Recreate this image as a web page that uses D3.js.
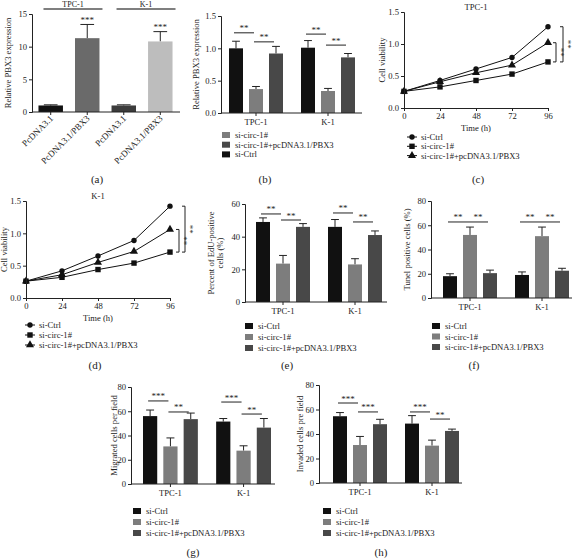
<!DOCTYPE html>
<html><head><meta charset="utf-8">
<script src="https://cdn.jsdelivr.net/npm/d3@7"></script>
<style>
body{margin:0;background:#fff}
svg{display:block}
text{font-family:"Liberation Serif","Times New Roman",serif;fill:#222}
</style>
</head><body><svg id="c" width="580" height="559"></svg>
<script>
// ---------------- DATA ----------------
const groups = ["TPC-1", "K-1"];
const seriesNames = ["si-Ctrl", "si-circ-1#", "si-circ-1#+pcDNA3.1/PBX3"];
const seriesColors = ["#111111", "#7d7d7d", "#484848"];

// (a)
const aLabels = ["PcDNA3.1", "PcDNA3.1/PBX3", "PcDNA3.1", "PcDNA3.1/PBX3"];
const aValues = [1.0, 11.3, 1.0, 10.8];
const aErr = [1.1, 13.4, 1.1, 12.3];
const aSig = ["", "***", "", "***"];
const aColors = ["#111111", "#6a6a6a", "#3c3c3c", "#bdbdbd"];
const aTicks = [0, 5, 10, 15];

// (b)
const bValues = [[1.0, 0.37, 0.92], [1.01, 0.34, 0.86]];
const bErr = [[1.11, 0.41, 1.03], [1.12, 0.38, 0.92]];
const bSig = [[0, 0, 1, 1.24, "**"], [0, 1, 2, 1.10, "**"], [1, 0, 1, 1.22, "**"], [1, 1, 2, 1.05, "**"]];
const bLegend = [1, 2, 0];
const unitTicks = [0, 0.5, 1.0, 1.5];

// (c) and (d)
const timePoints = [0, 24, 48, 72, 96];
const cCtrl = [0.26, 0.43, 0.61, 0.79, 1.27];
const cCirc = [0.26, 0.33, 0.43, 0.53, 0.72];
const cRescue = [0.26, 0.41, 0.55, 0.67, 1.02];
const dCtrl = [0.26, 0.42, 0.65, 0.89, 1.42];
const dCirc = [0.26, 0.32, 0.44, 0.54, 0.71];
const dRescue = [0.26, 0.36, 0.55, 0.72, 1.06];
const lineLegend = ["si-Ctrl", "si-circ-1#", "si-circ-1#+pcDNA3.1/PBX3"];

// (e)
const eValues = [[49, 23.5, 46], [46, 23, 41]];
const eErr = [[51.5, 28.5, 48], [50.5, 26.5, 43.5]];
const eSig = [[0, 0, 1, 53.9, "**"], [0, 1, 2, 50.2, "**"], [1, 0, 1, 54.5, "**"], [1, 1, 2, 49, "**"]];
const eTicks = [0, 20, 40, 60];

// (f)
const fValues = [[18, 52, 20.5], [19, 51, 22.5]];
const fErr = [[20, 58.5, 23], [21.5, 58.5, 24.5]];
const fSig = [[0, 0, 1, 62.7, "**"], [0, 1, 2, 62.7, "**"], [1, 0, 1, 62.7, "**"], [1, 1, 2, 62.7, "**"]];
const tick80 = [0, 20, 40, 60, 80];

// (g)
const gValues = [[56, 31, 53.5], [51.5, 27.5, 46.5]];
const gErr = [[61, 38, 58.5], [54, 31.5, 54]];
const gSig = [[0, 0, 1, 68.5, "***"], [0, 1, 2, 59.4, "**"], [1, 0, 1, 67.6, "***"], [1, 1, 2, 57.7, "**"]];

// (h)
const hValues = [[54.5, 31, 48], [48.5, 30.5, 42.5]];
const hErr = [[57.5, 38, 52], [55, 35, 44]];
const hSig = [[0, 0, 1, 65.3, "***"], [0, 1, 2, 58, "***"], [1, 0, 1, 58, "***"], [1, 1, 2, 52.2, "**"]];

// ---------------- DRAW ----------------
const svg = d3.select("#c");
const FS = 8.6;

function styleAxis(g) {
  g.selectAll("path.domain").attr("stroke", "#222").attr("stroke-width", 1);
  g.selectAll(".tick line").attr("stroke", "#222");
  g.selectAll(".tick text").style("font-family", '"Liberation Serif",serif').style("font-size", FS + "px").attr("fill", "#222");
}

function yAxis(y, x, ticks, fmt) {
  const g = svg.append("g").attr("transform", `translate(${x},0)`)
    .call(d3.axisLeft(y).tickValues(ticks).tickFormat(fmt).tickSizeOuter(0).tickSize(3).tickPadding(2));
  styleAxis(g);
}

function yTitle(lines, x, yc) {
  const t = svg.append("text").attr("transform", `translate(${x},${yc}) rotate(-90)`)
    .attr("text-anchor", "middle").style("font-size", FS + "px");
  lines.forEach((l, i) => t.append("tspan").attr("x", 0).attr("dy", i === 0 ? -(lines.length - 1) * 4.5 : 9).text(l));
}

function caption(txt, x, y) {
  svg.append("text").attr("x", x).attr("y", y).attr("text-anchor", "middle").style("font-size", "11px").text(txt);
}

function errBar(x, yTop, yBar, cap) {
  svg.append("line").attr("x1", x).attr("x2", x).attr("y1", yTop).attr("y2", yBar).attr("stroke", "#222").attr("stroke-width", 1);
  svg.append("line").attr("x1", x - cap).attr("x2", x + cap).attr("y1", yTop).attr("y2", yTop).attr("stroke", "#222").attr("stroke-width", 1);
}

function barPanel(cfg, values, errs, sigs, legendOrder) {
  const y = d3.scaleLinear().domain([0, cfg.ymax]).range([cfg.y0, cfg.y1]);
  const x0 = d3.scaleBand().domain(groups).range(cfg.groupRange).paddingInner(0.25).paddingOuter(0);
  const x1 = d3.scaleBand().domain(seriesNames).range([0, x0.bandwidth()]).paddingInner(0.3).paddingOuter(0);
  const bw = x1.bandwidth();
  groups.forEach((gname, gi) => {
    seriesNames.forEach((s, si) => {
      const xx = x0(gname) + x1(s);
      const cx = xx + bw / 2;
      errBar(cx, y(errs[gi][si]), y(values[gi][si]), bw * 0.28);
      svg.append("rect").attr("x", xx).attr("y", y(values[gi][si])).attr("width", bw)
        .attr("height", y(0) - y(values[gi][si])).attr("fill", seriesColors[si]);
    });
  });
  sigs.forEach(([gi, a, b, lvl, lab]) => {
    const xa = x0(groups[gi]) + x1(seriesNames[a]) + bw / 2 - 2;
    const xb = x0(groups[gi]) + x1(seriesNames[b]) + bw / 2 - 2;
    svg.append("line").attr("x1", xa).attr("x2", xb).attr("y1", y(lvl)).attr("y2", y(lvl)).attr("stroke", "#222");
    svg.append("text").attr("x", (xa + xb) / 2).attr("y", y(lvl) - 1.5).attr("text-anchor", "middle")
      .style("font-size", "9px").text(lab);
  });
  yAxis(y, cfg.ax, cfg.ticks, cfg.fmt);
  const xg = svg.append("g").attr("transform", `translate(0,${cfg.y0})`);
  xg.append("line").attr("x1", cfg.ax).attr("x2", cfg.axEnd).attr("stroke", "#222");
  groups.forEach(gname => {
    const cx = x0(gname) + x0.bandwidth() / 2;
    xg.append("line").attr("x1", cx).attr("x2", cx).attr("y1", 0).attr("y2", 3).attr("stroke", "#222");
    xg.append("text").attr("x", cx).attr("y", 12).attr("text-anchor", "middle").style("font-size", FS + "px").text(gname);
  });
  yTitle(cfg.title, cfg.titleX, (cfg.y0 + cfg.y1) / 2);
  legendOrder.forEach((si, i) => {
    const ly = cfg.legY + i * cfg.legStep;
    svg.append("rect").attr("x", cfg.legX).attr("y", ly - 3).attr("width", 8).attr("height", 6).attr("fill", seriesColors[si]);
    svg.append("text").attr("x", cfg.legX + 13).attr("y", ly + 3).style("font-size", FS + "px").text(seriesNames[si]);
  });
}

function marker(g, kind, x, y) {
  if (kind === 0) g.append("circle").attr("cx", x).attr("cy", y).attr("r", 2.7).attr("fill", "#111");
  else if (kind === 1) g.append("rect").attr("x", x - 2.7).attr("y", y - 2.7).attr("width", 5.4).attr("height", 5.4).attr("fill", "#111");
  else g.append("path").attr("d", d3.symbol(d3.symbolTriangle, 28)()).attr("transform", `translate(${x},${y})`).attr("fill", "#111");
}

function linePanel(cfg, series) {
  const x = d3.scaleLinear().domain([0, 96]).range([cfg.x0, cfg.x1]);
  const y = d3.scaleLinear().domain([0, 1.5]).range([cfg.y0, cfg.y1]);
  const g = svg.append("g");
  const line = d3.line().x((d, i) => x(timePoints[i])).y(d => y(d));
  series.forEach((s, k) => {
    g.append("path").attr("d", line(s)).attr("fill", "none").attr("stroke", "#111").attr("stroke-width", 1);
    s.forEach((v, i) => marker(g, k, x(timePoints[i]), y(v)));
  });
  yAxis(y, cfg.x0, unitTicks, d3.format(".1f"));
  const xg = svg.append("g").attr("transform", `translate(0,${cfg.y0})`)
    .call(d3.axisBottom(x).tickValues(timePoints).tickSizeOuter(0).tickSize(3).tickPadding(2));
  styleAxis(xg);
  svg.append("text").attr("x", (cfg.x0 + cfg.x1) / 2).attr("y", cfg.y0 + 23).attr("text-anchor", "middle").style("font-size", FS + "px").text("Time (h)");
  svg.append("text").attr("x", (cfg.x0 + cfg.x1) / 2).attr("y", cfg.y1 - 2).attr("text-anchor", "middle").style("font-size", FS + "px").text(cfg.name);
  yTitle(["Cell viability"], cfg.titleX, (cfg.y0 + cfg.y1) / 2);
  const last = timePoints.length - 1;
  const br = (top, bot, bx, lx) => {
    const yt = y(top), yb = y(bot);
    svg.append("path").attr("d", `M${bx - 3},${yt}H${bx}V${yb}H${bx - 3}`).attr("fill", "none").attr("stroke", "#222");
    svg.append("text").attr("transform", `translate(${lx},${(yt + yb) / 2}) rotate(90)`).attr("text-anchor", "middle")
      .style("font-size", "9px").text("**");
  };
  br(series[0][last], series[1][last], cfg.x1 + cfg.outerOff, cfg.x1 + cfg.outerOff + 2);
  br(series[2][last], series[1][last], cfg.x1 + cfg.innerOff, cfg.x1 + cfg.innerOff + 2);
  lineLegend.forEach((name, k) => {
    const ly = cfg.legY + k * cfg.legStep;
    svg.append("line").attr("x1", cfg.legX).attr("x2", cfg.legX + 10).attr("y1", ly).attr("y2", ly).attr("stroke", "#111");
    marker(svg, k, cfg.legX + 5, ly);
    svg.append("text").attr("x", cfg.legX + 14).attr("y", ly + 3).style("font-size", FS + "px").text(name);
  });
}

// ----- (a) -----
(function () {
  const y = d3.scaleLinear().domain([0, 15]).range([112, 14]);
  const x = d3.scaleBand().domain(d3.range(aValues.length)).range([33, 178]).paddingInner(0.33).paddingOuter(0.15);
  const bw = x.bandwidth();
  aValues.forEach((v, i) => {
    const cx = x(i) + bw / 2;
    errBar(cx, y(aErr[i]), y(v), bw * 0.28);
    svg.append("rect").attr("x", x(i)).attr("y", y(v)).attr("width", bw).attr("height", y(0) - y(v)).attr("fill", aColors[i]);
    if (aSig[i]) svg.append("text").attr("x", cx).attr("y", y(aErr[i]) - 1.5).attr("text-anchor", "middle").style("font-size", "9px").text(aSig[i]);
  });
  yAxis(y, 32, aTicks, d3.format("d"));
  const xg = svg.append("g").attr("transform", "translate(0,112)");
  xg.append("line").attr("x1", 32).attr("x2", 180).attr("stroke", "#222");
  aLabels.forEach((l, i) => {
    const cx = x(i) + bw / 2;
    xg.append("line").attr("x1", cx).attr("x2", cx).attr("y1", 0).attr("y2", 3).attr("stroke", "#222");
    xg.append("text").attr("transform", `translate(${cx + 3},${7}) rotate(-45)`).attr("text-anchor", "end")
      .style("font-size", "9px").text(l);
  });
  groups.forEach((gname, gi) => {
    const xa = x(gi * 2) + 5, xb = x(gi * 2 + 1) + bw + 3;
    svg.append("line").attr("x1", xa).attr("x2", xb).attr("y1", 9).attr("y2", 9).attr("stroke", "#555").attr("stroke-width", 1.3);
    svg.append("text").attr("x", (xa + xb) / 2).attr("y", 7).attr("text-anchor", "middle").style("font-size", "8px").text(gname);
  });
  yTitle(["Relative PBX3 expression"], 11, 63);
  caption("(a)", 97, 183);
})();

// ----- (b) -----
barPanel({ ymax: 1.5, y0: 113, y1: 16, groupRange: [229, 355], ax: 221, axEnd: 362, ticks: unitTicks, fmt: d3.format(".1f"),
  title: ["Relative PBX3 expression"], titleX: 199, legX: 222, legY: 135, legStep: 9.7 }, bValues, bErr, bSig, bLegend);
caption("(b)", 265, 183);

// ----- (c) -----
linePanel({ name: "TPC-1", x0: 404, x1: 548, y0: 108, y1: 12, titleX: 385, outerOff: 15, innerOff: 8, legX: 407, legY: 137, legStep: 9.3 },
  [cCtrl, cCirc, cRescue]);
caption("(c)", 478, 183);

// ----- (d) -----
linePanel({ name: "K-1", x0: 26, x1: 170, y0: 298, y1: 201, titleX: 7, outerOff: 15, innerOff: 9, legX: 25, legY: 325, legStep: 10 },
  [dCtrl, dCirc, dRescue]);
caption("(d)", 95, 369);

// ----- (e) -----
barPanel({ ymax: 60, y0: 302, y1: 204, groupRange: [256, 382], ax: 245, axEnd: 387, ticks: eTicks, fmt: d3.format("d"),
  title: ["Percent of EdU-positive", "cells (%)"], titleX: 218, legX: 245, legY: 326, legStep: 11 }, eValues, eErr, eSig, [0, 1, 2]);
caption("(e)", 287, 369);

// ----- (f) -----
barPanel({ ymax: 80, y0: 298, y1: 201, groupRange: [443, 569], ax: 431, axEnd: 572, ticks: tick80, fmt: d3.format("d"),
  title: ["Tunel positive cells (%)"], titleX: 410, legX: 432, legY: 326, legStep: 10.5 }, fValues, fErr, fSig, [0, 1, 2]);
caption("(f)", 474, 369);

// ----- (g) -----
barPanel({ ymax: 80, y0: 484, y1: 387, groupRange: [143, 271], ax: 131, axEnd: 275, ticks: tick80, fmt: d3.format("d"),
  title: ["Migrated cells per field"], titleX: 117, legX: 133, legY: 511, legStep: 11 }, gValues, gErr, gSig, [0, 1, 2]);
caption("(g)", 193, 556);

// ----- (h) -----
barPanel({ ymax: 80, y0: 483, y1: 385, groupRange: [333, 459], ax: 319, axEnd: 462, ticks: tick80, fmt: d3.format("d"),
  title: ["Invaded cells pre field"], titleX: 303, legX: 323, legY: 511, legStep: 11 }, hValues, hErr, hSig, [0, 1, 2]);
caption("(h)", 381, 556);
</script>
</body></html>
